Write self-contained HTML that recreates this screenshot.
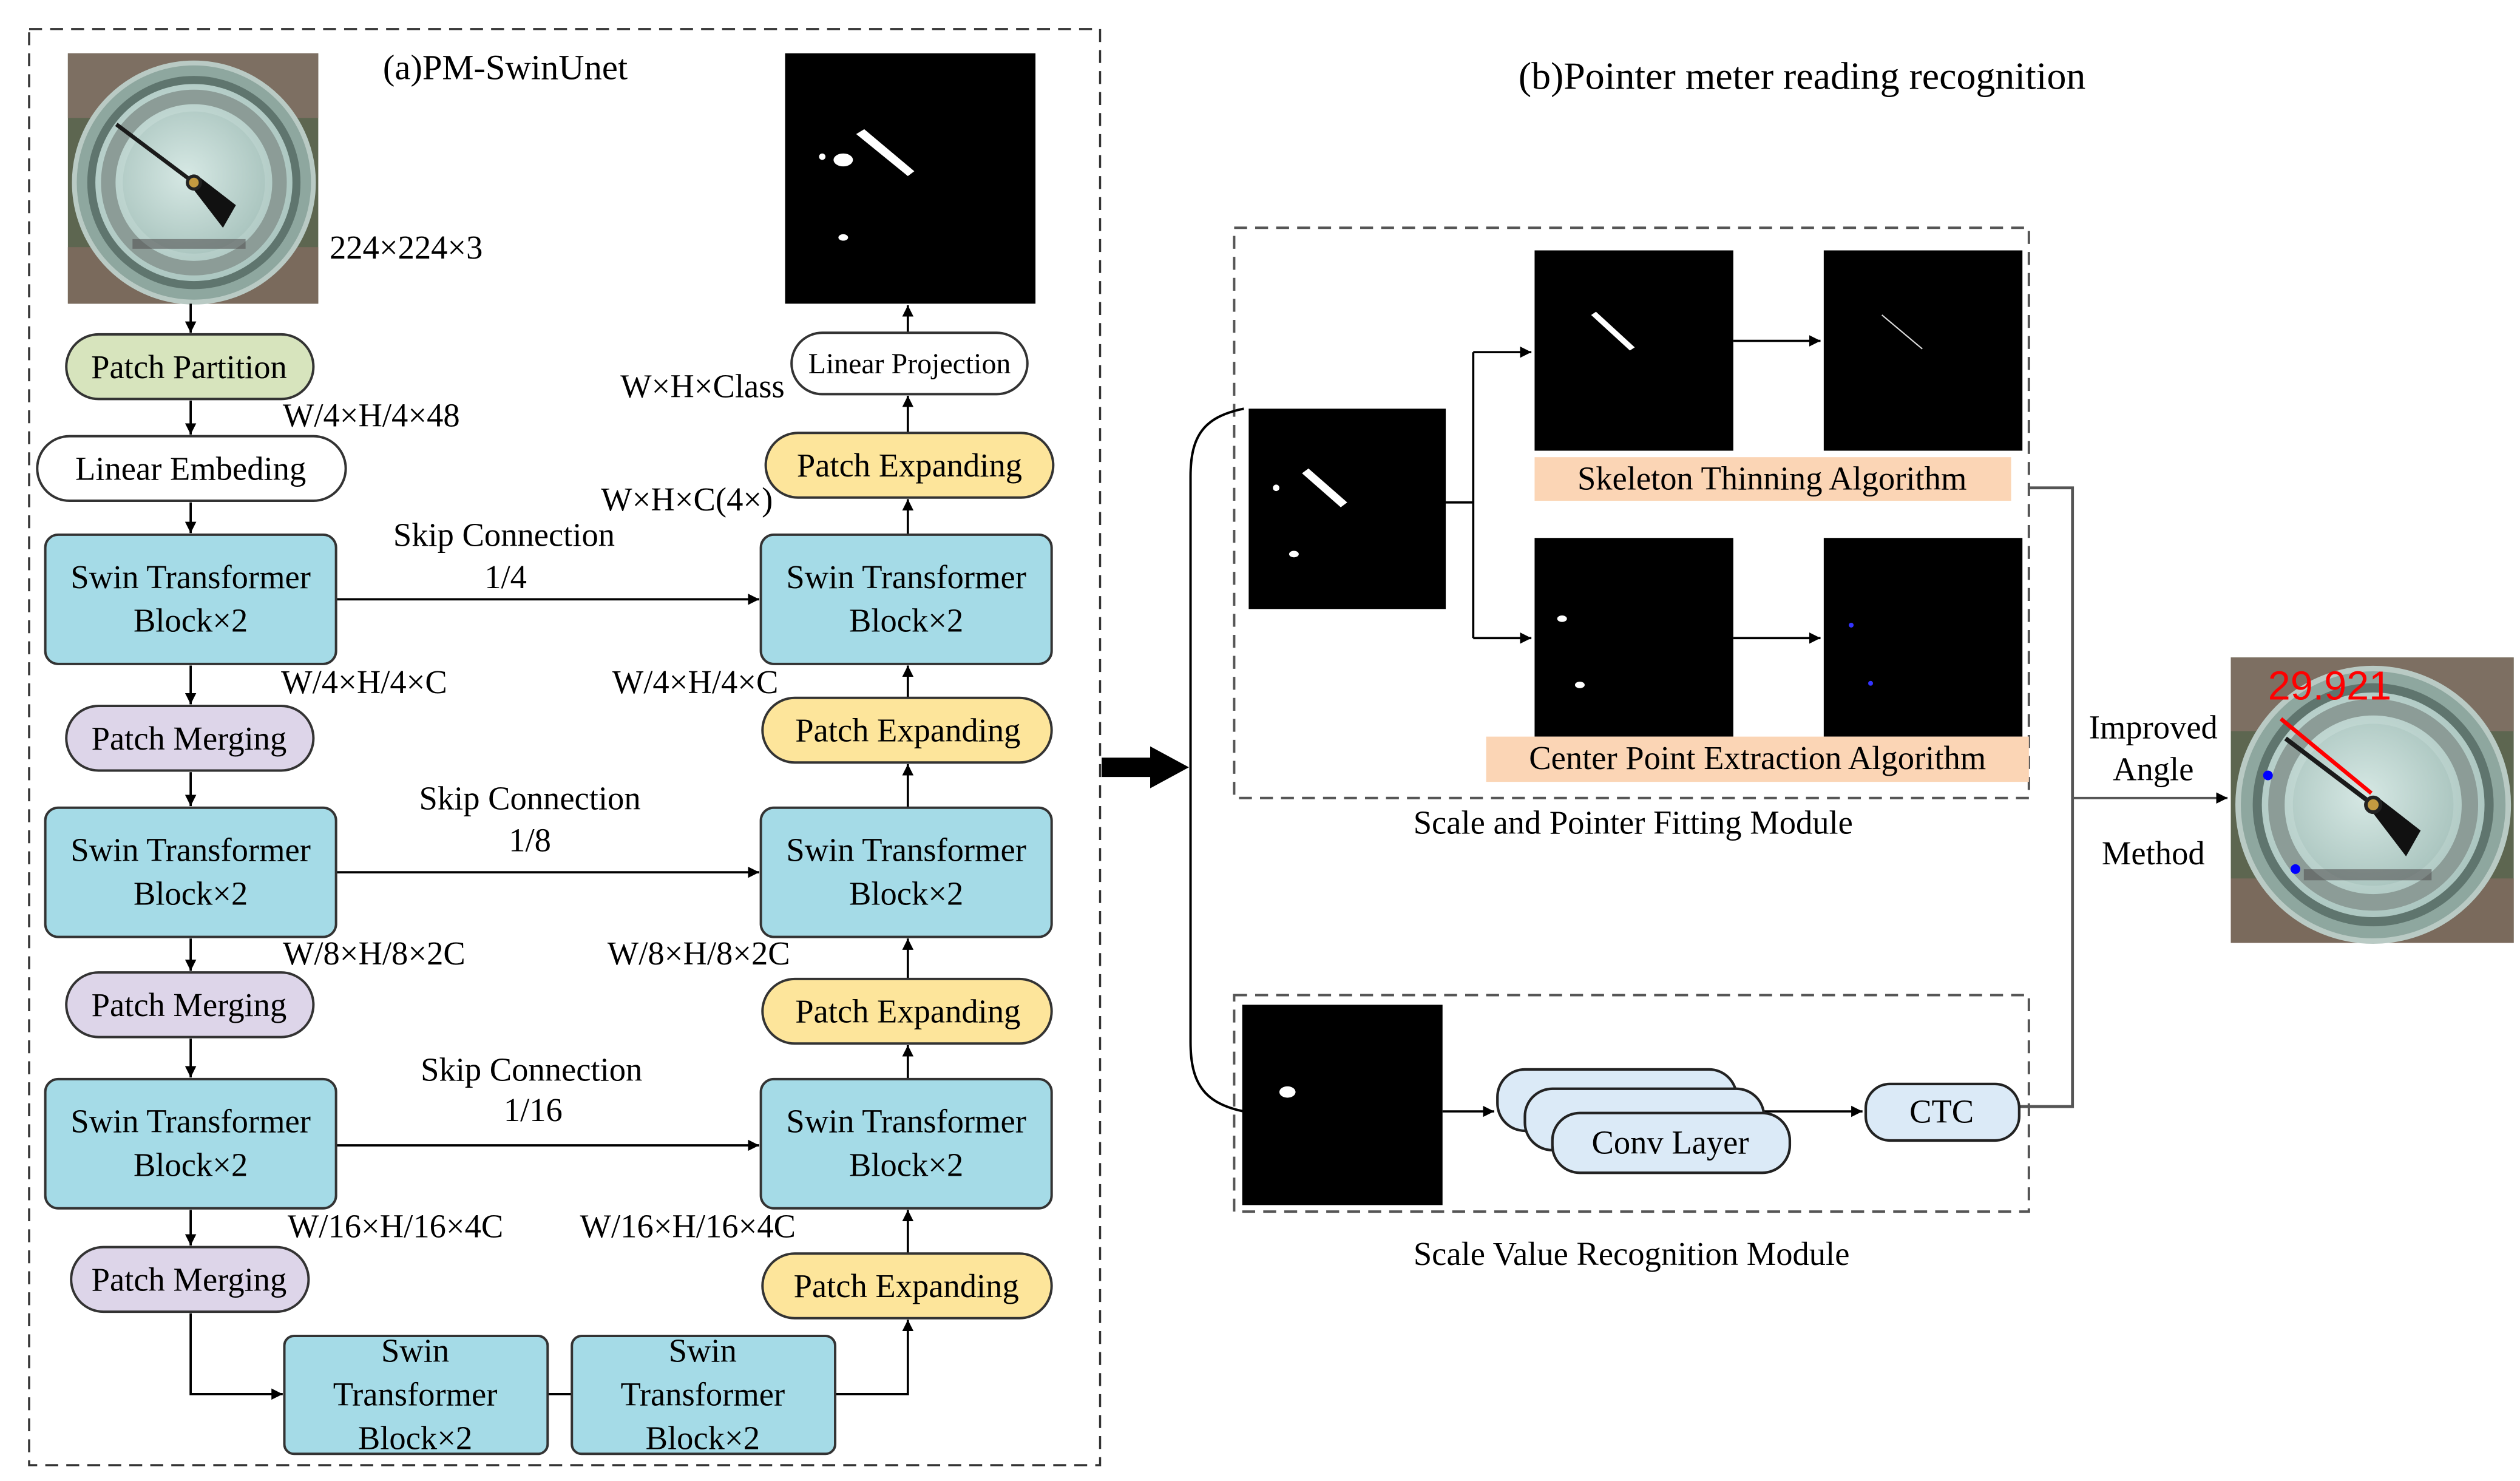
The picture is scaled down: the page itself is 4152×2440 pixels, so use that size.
<!DOCTYPE html>
<html><head><meta charset="utf-8"><style>html,body{margin:0;padding:0;background:#fff}svg{display:block}svg text{font-family:"Liberation Serif","DejaVu Serif",serif}</style></head>
<body>
<svg xmlns="http://www.w3.org/2000/svg" width="4152" height="2440" viewBox="0 0 1560 916.8" font-family="Liberation Serif, serif" font-size="20.5">
<defs>
<marker id="a" viewBox="0 0 10 10" refX="10" refY="5" markerWidth="7" markerHeight="7" orient="auto-start-reverse" markerUnits="userSpaceOnUse"><path d="M0,0L10,5L0,10z" fill="#000"/></marker>
<radialGradient id="face" cx="0.45" cy="0.45" r="0.6"><stop offset="0" stop-color="#d6e8e4"/><stop offset="1" stop-color="#a9c4be"/></radialGradient>
<g id="gauge">
<rect x="0" y="0" width="155" height="155" fill="#5d6650"/>
<rect x="0" y="0" width="155" height="40" fill="#7d6f62"/>
<rect x="0" y="120" width="155" height="35" fill="#7a6a5c"/>
<circle cx="78" cy="80" r="74" fill="#8ea79f" stroke="#b9cac4" stroke-width="3"/>
<circle cx="78" cy="80" r="66" fill="#5f756e"/>
<circle cx="78" cy="80" r="61" fill="url(#face)"/>
<circle cx="78" cy="80" r="53" fill="none" stroke="#8c9c97" stroke-width="9"/>
<circle cx="78" cy="80" r="44" fill="url(#face)"/>
<line x1="78" y1="80" x2="30" y2="44" stroke="#1a1a1a" stroke-width="2.5"/>
<path d="M76,82L82,77L104,94L96,108z" fill="#111"/>
<circle cx="78" cy="80" r="5" fill="#222"/><circle cx="78" cy="80" r="3" fill="#c49a40"/>
<rect x="40" y="115" width="70" height="6" fill="#555" opacity="0.6"/>
</g>
</defs>

<rect x="18" y="18" width="663" height="889" fill="none" stroke="#333" stroke-width="1.3" stroke-dasharray="8,5"/>
<use href="#gauge" transform="translate(42,33)"/>
<text x="237" y="49" font-size="22">(a)PM-SwinUnet</text>
<text x="204" y="160">224×224×3</text>

<rect x="486" y="33" width="155" height="155" fill="#000"/>
<path d="M530,83L535,80L566,106L562,109z" fill="#fff"/>
<ellipse cx="522" cy="99" rx="6" ry="4" fill="#fff"/><circle cx="509" cy="97" r="2" fill="#fff"/>
<ellipse cx="522" cy="147" rx="3" ry="2" fill="#fff"/>

<g stroke="#000" stroke-width="1.4" fill="none" marker-end="url(#a)">
<line x1="118" y1="188" x2="118" y2="206"/>
<line x1="118" y1="248" x2="118" y2="269"/>
<line x1="118" y1="311" x2="118" y2="330"/>
<line x1="118" y1="412" x2="118" y2="436"/>
<line x1="118" y1="478" x2="118" y2="499"/>
<line x1="118" y1="581" x2="118" y2="601"/>
<line x1="118" y1="643" x2="118" y2="667"/>
<line x1="118" y1="749" x2="118" y2="771"/>
<polyline points="118,813 118,863 175,863"/>
<polyline points="517,863 562,863 562,817"/>
<line x1="562" y1="668" x2="562" y2="647"/>
<line x1="562" y1="500" x2="562" y2="473"/>
<line x1="562" y1="331" x2="562" y2="309"/>
<line x1="562" y1="268" x2="562" y2="245"/>
<line x1="562" y1="206" x2="562" y2="189"/>
<line x1="562" y1="606" x2="562" y2="581"/>
<line x1="562" y1="776" x2="562" y2="749"/>
<line x1="562" y1="432" x2="562" y2="412"/>
<line x1="208" y1="371" x2="470" y2="371"/>
<line x1="208" y1="540" x2="470" y2="540"/>
<line x1="208" y1="709" x2="470" y2="709"/>
</g>
<line x1="339" y1="863" x2="354" y2="863" stroke="#000" stroke-width="1.4"/>

<g stroke="#333" stroke-width="1.5">
<rect x="41" y="207" width="153" height="40" rx="20" fill="#d7e4bd"/>
<rect x="23" y="270" width="191" height="40" rx="20" fill="#fff"/>
<rect x="28" y="331" width="180" height="80" rx="8" fill="#a5dbe7"/>
<rect x="28" y="500" width="180" height="80" rx="8" fill="#a5dbe7"/>
<rect x="28" y="668" width="180" height="80" rx="8" fill="#a5dbe7"/>
<rect x="471" y="331" width="180" height="80" rx="8" fill="#a5dbe7"/>
<rect x="471" y="500" width="180" height="80" rx="8" fill="#a5dbe7"/>
<rect x="471" y="668" width="180" height="80" rx="8" fill="#a5dbe7"/>
<rect x="41" y="437" width="153" height="40" rx="20" fill="#ddd5e9"/>
<rect x="41" y="602" width="153" height="40" rx="20" fill="#ddd5e9"/>
<rect x="44" y="772" width="147" height="40" rx="20" fill="#ddd5e9"/>
<rect x="474" y="268" width="178" height="40" rx="20" fill="#fde59b"/>
<rect x="472" y="432" width="179" height="40" rx="20" fill="#fde59b"/>
<rect x="472" y="606" width="179" height="40" rx="20" fill="#fde59b"/>
<rect x="472" y="776" width="179" height="40" rx="20" fill="#fde59b"/>
<rect x="490" y="206" width="146" height="38" rx="19" fill="#fff"/>
<rect x="176" y="827" width="163" height="73" rx="6" fill="#a5dbe7"/>
<rect x="354" y="827" width="163" height="73" rx="6" fill="#a5dbe7"/>
</g>

<g text-anchor="middle">
<text x="117" y="234">Patch Partition</text>
<text x="118" y="297">Linear Embeding</text>
<text x="118" y="364">Swin Transformer</text><text x="118" y="391">Block×2</text>
<text x="118" y="533">Swin Transformer</text><text x="118" y="560">Block×2</text>
<text x="118" y="701">Swin Transformer</text><text x="118" y="728">Block×2</text>
<text x="561" y="364">Swin Transformer</text><text x="561" y="391">Block×2</text>
<text x="561" y="533">Swin Transformer</text><text x="561" y="560">Block×2</text>
<text x="561" y="701">Swin Transformer</text><text x="561" y="728">Block×2</text>
<text x="117" y="464">Patch Merging</text>
<text x="117" y="629">Patch Merging</text>
<text x="117" y="799">Patch Merging</text>
<text x="563" y="295">Patch Expanding</text>
<text x="562" y="459">Patch Expanding</text>
<text x="562" y="633">Patch Expanding</text>
<text x="561" y="803">Patch Expanding</text>
<text x="563" y="231" font-size="18">Linear Projection</text>
<text x="257" y="843">Swin</text><text x="257" y="870">Transformer</text><text x="257" y="897">Block×2</text>
<text x="435" y="843">Swin</text><text x="435" y="870">Transformer</text><text x="435" y="897">Block×2</text>
<text x="312" y="338">Skip Connection</text><text x="313" y="364">1/4</text>
<text x="328" y="501">Skip Connection</text><text x="328" y="527">1/8</text>
<text x="329" y="669">Skip Connection</text><text x="330" y="694">1/16</text>
</g>
<text x="175" y="264">W/4×H/4×48</text>
<text x="384" y="246">W×H×Class</text>
<text x="372" y="316">W×H×C(4×)</text>
<text x="174" y="429">W/4×H/4×C</text>
<text x="379" y="429">W/4×H/4×C</text>
<text x="175" y="597">W/8×H/8×2C</text>
<text x="376" y="597">W/8×H/8×2C</text>
<text x="178" y="766">W/16×H/16×4C</text>
<text x="359" y="766">W/16×H/16×4C</text>

<path d="M682,469L712,469L712,462L736,475L712,488L712,481L682,481z" fill="#000"/>

<text x="940" y="55" font-size="24">(b)Pointer meter reading recognition</text>
<rect x="764" y="141" width="492" height="353" fill="none" stroke="#555" stroke-width="1.5" stroke-dasharray="8,5"/>
<rect x="764" y="616" width="492" height="134" fill="none" stroke="#555" stroke-width="1.5" stroke-dasharray="8,5"/>
<path d="M770,253 C745,258 737,270 737,295 L737,645 C737,670 745,683 770,688" fill="none" stroke="#000" stroke-width="1.5"/>

<rect x="773" y="253" width="122" height="124" fill="#000"/>
<path d="M806,293L810,290L834,311L830,314z" fill="#fff"/><circle cx="790" cy="302" r="2" fill="#fff"/><ellipse cx="801" cy="343" rx="3" ry="2" fill="#fff"/>
<rect x="950" y="155" width="123" height="124" fill="#000"/>
<path d="M985,195L988,193L1012,215L1009,217z" fill="#fff"/>
<rect x="1129" y="155" width="123" height="124" fill="#000"/>
<line x1="1165" y1="195" x2="1190" y2="216" stroke="#ddd" stroke-width="0.8"/>
<rect x="950" y="333" width="123" height="123" fill="#000"/>
<ellipse cx="967" cy="383" rx="3" ry="2" fill="#fff"/><ellipse cx="978" cy="424" rx="3" ry="2" fill="#fff"/>
<rect x="1129" y="333" width="123" height="123" fill="#000"/>
<circle cx="1146" cy="387" r="1.5" fill="#33f"/><circle cx="1158" cy="423" r="1.5" fill="#33f"/>

<g stroke="#000" stroke-width="1.4" fill="none">
<polyline points="895,311 912,311"/>
<line x1="912" y1="218" x2="912" y2="395"/>
<line x1="912" y1="218" x2="948" y2="218" marker-end="url(#a)"/>
<line x1="912" y1="395" x2="948" y2="395" marker-end="url(#a)"/>
<line x1="1073" y1="211" x2="1127" y2="211" marker-end="url(#a)"/>
<line x1="1073" y1="395" x2="1127" y2="395" marker-end="url(#a)"/>
<line x1="893" y1="688" x2="925" y2="688" marker-end="url(#a)"/>
<line x1="1092" y1="688" x2="1153" y2="688" marker-end="url(#a)"/>
<polyline points="1256,302 1283,302 1283,685 1250,685" stroke="#555" stroke-width="1.8"/>
<line x1="1283" y1="494" x2="1379" y2="494" stroke="#555" marker-end="url(#a)"/>
</g>

<rect x="950" y="283" width="295" height="27" fill="#fbd5b5"/>
<rect x="920" y="456" width="336" height="28" fill="#fbd5b5"/>
<text x="1097" y="303" text-anchor="middle">Skeleton Thinning Algorithm</text>
<text x="1088" y="476" text-anchor="middle">Center Point Extraction Algorithm</text>
<text x="1011" y="516" text-anchor="middle">Scale and Pointer Fitting Module</text>

<rect x="769" y="622" width="124" height="124" fill="#000"/>
<ellipse cx="797" cy="676" rx="5" ry="3.5" fill="#fff"/>
<g stroke="#222" stroke-width="1.6" fill="#dbeaf7">
<rect x="927" y="662" width="148" height="38" rx="17"/>
<rect x="944" y="674" width="148" height="38" rx="17"/>
<rect x="961" y="689" width="147" height="37" rx="17"/>
<rect x="1155" y="671" width="95" height="35" rx="15"/>
</g>
<text x="1034" y="714" text-anchor="middle">Conv Layer</text>
<text x="1202" y="695" text-anchor="middle">CTC</text>
<text x="1010" y="783" text-anchor="middle">Scale Value Recognition Module</text>

<text x="1333" y="457" text-anchor="middle">Improved</text>
<text x="1333" y="483" text-anchor="middle">Angle</text>
<text x="1333" y="535" text-anchor="middle">Method</text>

<g transform="translate(1381,407) scale(1.13,1.14)"><use href="#gauge"/></g>
<line x1="1412" y1="445" x2="1468" y2="491" stroke="#f00" stroke-width="2.5"/>
<circle cx="1404" cy="480" r="3" fill="#00f"/><circle cx="1421" cy="538" r="3" fill="#00f"/>
<text x="1404" y="433" style="font-family:'Liberation Sans',sans-serif" font-size="25" fill="#f00">29.921</text>
</svg>
</body></html>
